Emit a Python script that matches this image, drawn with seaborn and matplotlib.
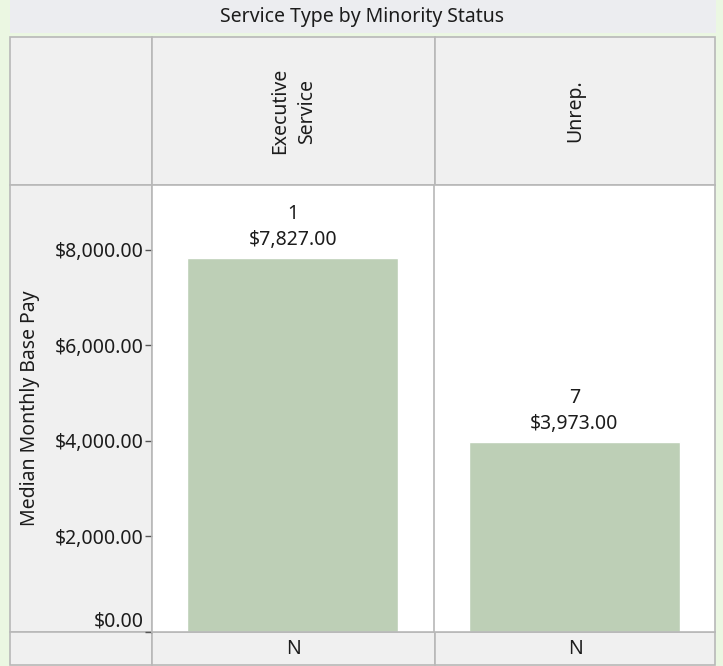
import matplotlib
matplotlib.use("Agg")
import matplotlib.pyplot as plt
import matplotlib.patches as mpatches
import seaborn as sns
import pandas as pd

# chart data
service_types = ["Executive\nService", "Unrep."]
median_pay = [7827.00, 3973.00]
counts = [1, 7]
title = "Service Type by Minority Status"
y_label = "Median Monthly Base Pay"
y_ticks = [0, 2000, 4000, 6000, 8000]

df = pd.DataFrame({"service": service_types, "pay": median_pay, "n": counts})

sns.set_style("white")
plt.rcParams["font.family"] = ["Noto Sans", "DejaVu Sans"]

W, H = 723, 666
FS = 14
fig = plt.figure(figsize=(W / 100, H / 100), dpi=100)
fig.patch.set_facecolor("#ebf7e2")

border = "#b8b8b8"
cell_gray = "#f0f0f0"
text_col = "#1c1c1c"


def px_rect(x0, y0, x1, y1, fc, ec="none", lw=0):
    # rectangle given in pixel coords from top-left, drawn under the axes
    r = mpatches.Rectangle((x0 / W, 1 - y1 / H), (x1 - x0) / W, (y1 - y0) / H,
                           transform=fig.transFigure, facecolor=fc,
                           edgecolor=ec, linewidth=lw, zorder=-1)
    fig.patches.append(r)


# grid layout (pixels)
left, col_split, mid, right = 10, 152, 435, 715
title_bottom = 33
head_top, head_bottom = 37, 185
plot_bottom, foot_bottom = 632, 665

# title bar
px_rect(left, 0, right + 1, title_bottom, "#ecedf0")
fig.text((left + right) / 2 / W, 1 - 17 / H, title, ha="center", va="center",
         fontsize=FS, color=text_col)

# header row
px_rect(left, head_top, col_split, head_bottom, cell_gray, border, 1.2)
px_rect(col_split, head_top, mid, head_bottom, cell_gray, border, 1.2)
px_rect(mid, head_top, right, head_bottom, cell_gray, border, 1.2)
# left column beside plot
px_rect(left, head_bottom, col_split, plot_bottom, cell_gray, border, 1.2)
# footer row
px_rect(left, plot_bottom, col_split, foot_bottom, cell_gray, border, 1.2)
px_rect(col_split, plot_bottom, mid, foot_bottom, cell_gray, border, 1.2)
px_rect(mid, plot_bottom, right, foot_bottom, cell_gray, border, 1.2)

col_centers = [(col_split + mid) / 2, (mid + right) / 2]
for cx, lab in zip(col_centers, service_types):
    fig.text(cx / W, 1 - (head_top + head_bottom) / 2 / H, lab, rotation=90,
             ha="center", va="center", multialignment="center",
             fontsize=FS, color=text_col, linespacing=1.45)
    fig.text(cx / W, 1 - (plot_bottom + foot_bottom) / 2 / H, "N",
             ha="center", va="center", fontsize=FS, color=text_col)

# main plot axes
ax = fig.add_axes([col_split / W, 1 - plot_bottom / H,
                   (right - col_split) / W, (plot_bottom - head_bottom) / H])
ax.set_facecolor("white")
sns.barplot(data=df, x="service", y="pay", color="#bdcfb6", width=0.75,
            saturation=1, ax=ax, zorder=2)
ax.set_xlim(-0.5, 1.5)
ax.set_ylim(0, 9360)
ax.axvline(0.5, color=border, lw=1.2, zorder=1)

for i, (v, n) in enumerate(zip(median_pay, counts)):
    ax.annotate(f"${v:,.2f}", (i, v), xytext=(0, 18), textcoords="offset pixels",
                ha="center", va="center", fontsize=FS, color=text_col)
    ax.annotate(str(n), (i, v), xytext=(0, 44), textcoords="offset pixels",
                ha="center", va="center", fontsize=FS, color=text_col)

ax.set_xticks([])
ax.set_xlabel("")
ax.set_ylabel("")
ax.set_yticks(y_ticks)
ax.set_yticklabels([f"${t:,.2f}" for t in y_ticks], fontsize=FS, color=text_col)
ax.tick_params(axis="y", direction="out", length=5, width=1, color="#555555",
               left=True, pad=1)
# the zero label sits inside the cell, above the bottom edge
ax.yaxis.get_major_ticks()[0].label1.set_verticalalignment("bottom")
for s in ax.spines.values():
    s.set_color(border)
    s.set_linewidth(1.2)

fig.text(30 / W, 1 - (head_bottom + plot_bottom) / 2 / H, y_label, rotation=90,
         ha="center", va="center", fontsize=FS, color=text_col)

fig.savefig("out.png", dpi=100, facecolor=fig.get_facecolor())
